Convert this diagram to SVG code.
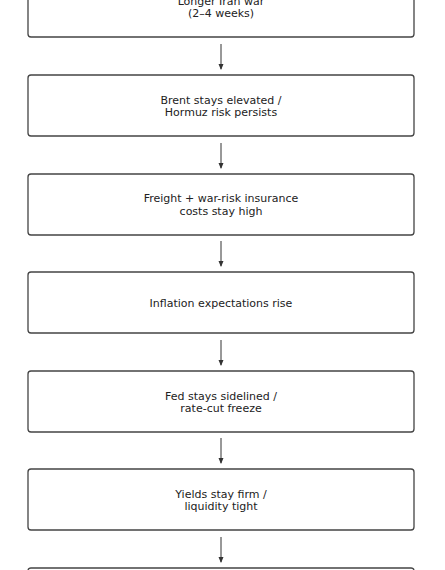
<svg xmlns="http://www.w3.org/2000/svg" width="445" height="570" viewBox="0 0 445 570">
<defs>
<style>
.box{fill:#fff;stroke:#444;stroke-width:1.3}
.t{font-family:"DejaVu Sans",sans-serif;font-size:11px;fill:#222;text-anchor:middle}
.c{stroke:#333;stroke-width:1;fill:none;marker-end:url(#ah)}
</style>
<marker id="ah" viewBox="0 0 6 6" refX="5" refY="3" markerWidth="6" markerHeight="6" markerUnits="userSpaceOnUse" orient="auto">
<path d="M0,0.5 L6,3 L0,5.5 Z" fill="#333"/>
</marker>
</defs>
<rect width="445" height="570" fill="#fff"/>
<g id="connectors">
<line class="c" x1="221" y1="44" x2="221" y2="69"/>
<line class="c" x1="221" y1="143" x2="221" y2="168"/>
<line class="c" x1="221" y1="241" x2="221" y2="266"/>
<line class="c" x1="221" y1="340" x2="221" y2="365"/>
<line class="c" x1="221" y1="438" x2="221" y2="463"/>
<line class="c" x1="221" y1="537" x2="221" y2="562"/>
</g>
<g id="n1"><rect class="box" x="28" y="-24" width="386" height="61" rx="3"/>
<text class="t" x="221" y="4.5">Longer Iran war</text><text class="t" x="221" y="17">(2–4 weeks)</text></g>
<g id="n2"><rect class="box" x="28" y="75" width="386" height="61" rx="3"/>
<text class="t" x="221" y="103.5">Brent stays elevated /</text><text class="t" x="221" y="116">Hormuz risk persists</text></g>
<g id="n3"><rect class="box" x="28" y="174" width="386" height="61" rx="3"/>
<text class="t" x="221" y="202">Freight + war-risk insurance</text><text class="t" x="221" y="214.5">costs stay high</text></g>
<g id="n4"><rect class="box" x="28" y="272" width="386" height="61" rx="3"/>
<text class="t" x="221" y="306.5">Inflation expectations rise</text></g>
<g id="n5"><rect class="box" x="28" y="371" width="386" height="61" rx="3"/>
<text class="t" x="221" y="399.5">Fed stays sidelined /</text><text class="t" x="221" y="412">rate-cut freeze</text></g>
<g id="n6"><rect class="box" x="28" y="469" width="386" height="61" rx="3"/>
<text class="t" x="221" y="497.5">Yields stay firm /</text><text class="t" x="221" y="510">liquidity tight</text></g>
<g id="n7"><rect class="box" x="28" y="568" width="386" height="61" rx="3"/></g>
</svg>
